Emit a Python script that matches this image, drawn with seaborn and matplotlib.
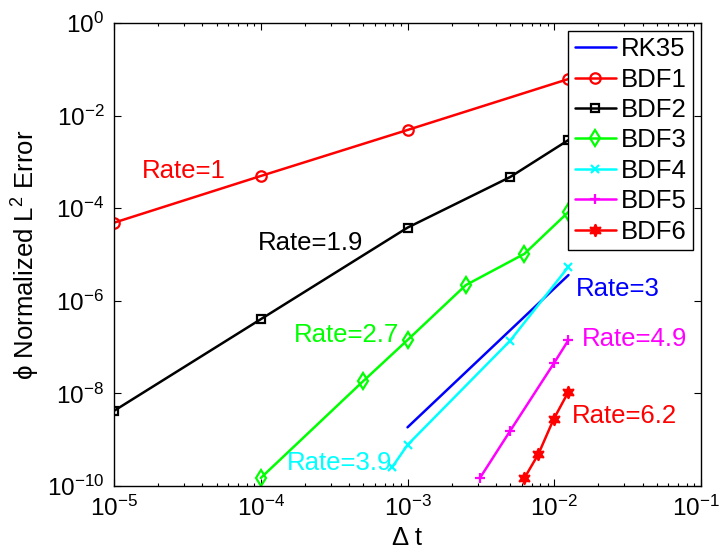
import numpy as np
import pandas as pd
import matplotlib
matplotlib.use("Agg")
import matplotlib.pyplot as plt
import matplotlib.transforms as mtransforms
import seaborn as sns
from matplotlib.ticker import LogLocator, NullLocator, FixedLocator

# ---- data ----
rk35_dt = [1e-3, 1.25e-2]
rk35_err = [1.85e-9, 3.6e-6]

bdf1_dt = [1e-5, 1e-4, 1e-3, 1.25e-2]
bdf1_err = [4.86e-5, 4.96e-4, 4.89e-3, 6.17e-2]

bdf2_dt = [1e-5, 1e-4, 1e-3, 5e-3, 1.25e-2]
bdf2_err = [4.2e-9, 4.0e-7, 3.8e-5, 4.7e-4, 2.97e-3]

bdf3_dt = [1e-4, 5e-4, 1e-3, 2.5e-3, 6.25e-3, 1.25e-2]
bdf3_err = [1.49e-10, 1.85e-8, 1.42e-7, 2.19e-6, 1.03e-5, 8.3e-5]

bdf4_dt = [7.9e-4, 1e-3, 5e-3, 1.25e-2]
bdf4_err = [2.61e-10, 7.7e-10, 1.37e-7, 5.45e-6]

bdf5_dt = [3.125e-3, 5e-3, 1e-2, 1.25e-2]
bdf5_err = [1.51e-10, 1.54e-9, 4.6e-8, 1.42e-7]

bdf6_dt = [6.25e-3, 7.8e-3, 9.9e-3, 1.25e-2]
bdf6_err = [1.47e-10, 4.9e-10, 2.76e-9, 1.09e-8]

rate_labels = ["Rate=1", "Rate=1.9", "Rate=2.7", "Rate=3", "Rate=4.9", "Rate=6.2", "Rate=3.9"]
rate_x = [1.545e-5, 9.5e-5, 1.69e-4, 1.40e-2, 1.538e-2, 1.328e-2, 1.50e-4]
rate_y = [6.5e-4, 1.75e-5, 1.85e-7, 1.78e-6, 1.48e-7, 3.28e-9, 3.17e-10]
rate_colors = ["#ff0000", "#000000", "#00ff00", "#0000ff", "#ff00ff", "#ff0000", "#00ffff"]

x_ticks = [1e-5, 1e-4, 1e-3, 1e-2, 1e-1]
y_ticks = [1e-10, 1e-8, 1e-6, 1e-4, 1e-2, 1e0]

# ---- style ----
sns.set_style("ticks")
plt.rcParams["font.family"] = ["Liberation Sans", "DejaVu Sans"]
plt.rcParams["mathtext.fontset"] = "custom"
plt.rcParams["mathtext.rm"] = "Liberation Sans"
plt.rcParams["mathtext.it"] = "Liberation Sans:italic"
plt.rcParams["mathtext.default"] = "regular"
for k in ["text.color", "axes.labelcolor", "xtick.color", "ytick.color", "axes.edgecolor"]:
    plt.rcParams[k] = "black"

FS = 18.5
TFS = 17.5

fig = plt.figure(figsize=(7.23, 5.52), dpi=100)
ax = fig.add_axes([114/723, 1-486/552, (701-114)/723, (486-23)/552])

series = [
    ("RK35", rk35_dt, rk35_err, "#0000ff", dict(marker=None)),
    ("BDF1", bdf1_dt, bdf1_err, "#ff0000", dict(marker="o", ms=7.5, mfc="none", mew=1.6)),
    ("BDF2", bdf2_dt, bdf2_err, "#000000", dict(marker="s", ms=5.5, mfc="none", mew=1.6)),
    ("BDF3", bdf3_dt, bdf3_err, "#00ff00", dict(marker="d", ms=8, mfc="none", mew=1.6)),
    ("BDF4", bdf4_dt, bdf4_err, "#00ffff", dict(marker="x", ms=5.5, mew=1.6)),
    ("BDF5", bdf5_dt, bdf5_err, "#ff00ff", dict(marker="+", ms=7, mew=1.6)),
    ("BDF6", bdf6_dt, bdf6_err, "#ff0000", dict(marker=(6, 1, 0), ms=9, mew=1.2, mfc="#ff0000")),
]

for name, xs, ys, col, kw in series:
    df = pd.DataFrame({"dt": xs, "err": ys})
    sns.lineplot(data=df, x="dt", y="err", ax=ax, color=col, lw=1.8,
                 label=name, sort=False, estimator=None, mec=col, **kw)

ax.set_xscale("log")
ax.set_yscale("log")
ax.set_xlim(1e-5, 1e-1)
ax.set_ylim(1e-10, 1e0)

ax.xaxis.set_major_locator(FixedLocator(x_ticks))
ax.xaxis.set_minor_locator(LogLocator(base=10, subs=np.arange(2, 10), numticks=20))
ax.yaxis.set_major_locator(FixedLocator(y_ticks))
ax.yaxis.set_minor_locator(NullLocator())
ax.set_xticklabels([r"$10^{%d}$" % int(np.log10(v)) for v in x_ticks])
ax.set_yticklabels([r"$10^{%d}$" % int(np.log10(v)) for v in y_ticks])

ax.tick_params(which="both", direction="in", top=True, right=True, bottom=True, left=True,
               labelsize=TFS, width=0.8, color="black", labelcolor="black")
ax.tick_params(which="major", length=5, pad=7)
ax.tick_params(which="minor", length=2.5)
for s in ax.spines.values():
    s.set_color("black")
    s.set_linewidth(1.0)

# nudge the last x tick label slightly so it stays inside the canvas
last = ax.get_xticklabels()[-1]
last.set_transform(last.get_transform() +
                   mtransforms.ScaledTranslation(-5/100, 0, fig.dpi_scale_trans))

for lab, x, y, c in zip(rate_labels, rate_x, rate_y, rate_colors):
    ax.text(x, y, lab, color=c, fontsize=FS, ha="left", va="center")

ax.set_xlabel("Δ t", fontsize=FS)
ax.set_ylabel("ϕ Normalized L$^{2}$ Error", fontsize=FS)
ax.yaxis.set_label_coords(-0.122, 0.5)
ax.xaxis.set_label_coords(0.5, -0.087)

leg = ax.legend(loc="upper right", fontsize=FS, frameon=True, fancybox=False,
                edgecolor="black", framealpha=1, handlelength=1.6,
                borderpad=0.25, labelspacing=0.25, handletextpad=0.2,
                borderaxespad=0.3)
leg.get_frame().set_linewidth(1.0)

fig.savefig("out.png", dpi=100)
